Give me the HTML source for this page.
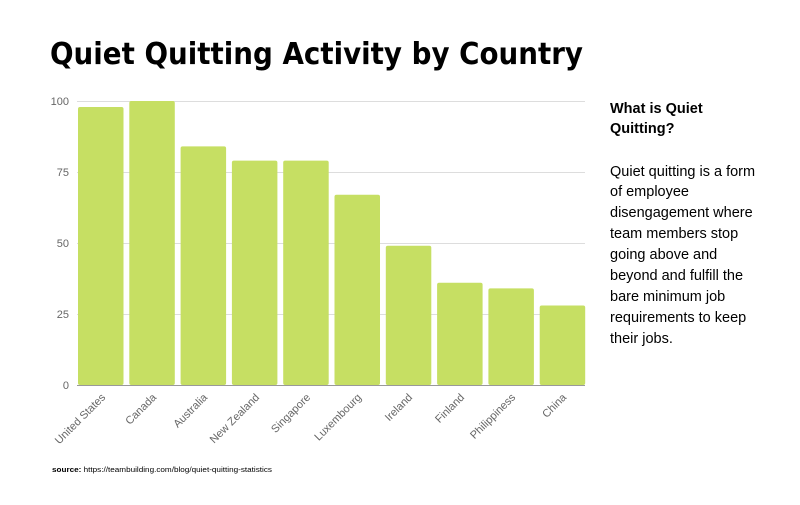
<!DOCTYPE html>
<html><head><style>
body{margin:0;background:#fff;width:800px;height:500px;overflow:hidden;font-family:"Liberation Sans",sans-serif}
</style></head><body>
<svg width="800" height="500" xmlns="http://www.w3.org/2000/svg" font-family="Liberation Sans, sans-serif">
<text x="50" y="64" font-size="30" font-weight="bold" fill="#000" font-family="DejaVu Sans, sans-serif" textLength="533" lengthAdjust="spacingAndGlyphs">Quiet Quitting Activity by Country</text>
<g stroke="#ddd" stroke-width="1">
<line x1="77" x2="585" y1="101.5" y2="101.5"/>
<line x1="77" x2="585" y1="172.5" y2="172.5"/>
<line x1="77" x2="585" y1="243.5" y2="243.5"/>
<line x1="77" x2="585" y1="314.5" y2="314.5"/>
</g>
<g font-size="11" fill="#666" text-anchor="end">
<text x="69" y="105">100</text><text x="69" y="176">75</text><text x="69" y="247">50</text><text x="69" y="318">25</text><text x="69" y="389">0</text>
</g>
<g fill="#c6df63">
<rect x="78" y="107" width="45.5" height="278" rx="2"/>
<rect x="129.3" y="101" width="45.5" height="284" rx="2"/>
<rect x="180.6" y="146.4" width="45.5" height="238.6" rx="2"/>
<rect x="231.9" y="160.6" width="45.5" height="224.4" rx="2"/>
<rect x="283.2" y="160.6" width="45.5" height="224.4" rx="2"/>
<rect x="334.5" y="194.7" width="45.5" height="190.3" rx="2"/>
<rect x="385.8" y="245.8" width="45.5" height="139.2" rx="2"/>
<rect x="437.1" y="282.8" width="45.5" height="102.2" rx="2"/>
<rect x="488.4" y="288.4" width="45.5" height="96.6" rx="2"/>
<rect x="539.7" y="305.5" width="45.5" height="79.5" rx="2"/>
</g>
<line x1="77" x2="585" y1="385.5" y2="385.5" stroke="#999"/>
<g font-size="11" fill="#666" text-anchor="end">
<text transform="translate(106,398) rotate(-45)">United States</text>
<text transform="translate(157,398) rotate(-45)">Canada</text>
<text transform="translate(208,398) rotate(-45)">Australia</text>
<text transform="translate(260,398) rotate(-45)">New Zealand</text>
<text transform="translate(311,398) rotate(-45)">Singapore</text>
<text transform="translate(362,398) rotate(-45)">Luxembourg</text>
<text transform="translate(413,398) rotate(-45)">Ireland</text>
<text transform="translate(465,398) rotate(-45)">Finland</text>
<text transform="translate(516,398) rotate(-45)">Philippiness</text>
<text transform="translate(567,398) rotate(-45)">China</text>
</g>
<text x="52" y="472" font-size="7" fill="#000" textLength="220" lengthAdjust="spacingAndGlyphs"><tspan font-weight="bold">source:</tspan> https://teambuilding.com/blog/quiet-quitting-statistics</text>
<g font-size="14.5" fill="#000">
<text x="610" y="113" font-weight="bold">What is Quiet</text>
<text x="610" y="133" font-weight="bold">Quitting?</text>
<text x="610" y="176">Quiet quitting is a form</text>
<text x="610" y="196">of employee</text>
<text x="610" y="217">disengagement where</text>
<text x="610" y="238">team members stop</text>
<text x="610" y="259">going above and</text>
<text x="610" y="280">beyond and fulfill the</text>
<text x="610" y="301">bare minimum job</text>
<text x="610" y="322">requirements to keep</text>
<text x="610" y="343">their jobs.</text>
</g>
</svg>
</body></html>
